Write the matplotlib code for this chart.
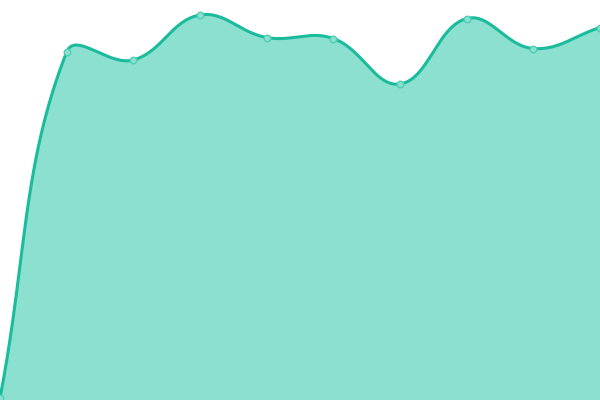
import numpy as np
import matplotlib
matplotlib.use("Agg")
import matplotlib.pyplot as plt

labels = list(range(10))
values = [2, 348, 340, 385, 362.5, 361.5, 316, 381.5, 351.5, 372.5]

line_color = "#1abc9c"
fill_color = "#8be0cf"

fig = plt.figure(figsize=(6, 4), dpi=100)
ax = fig.add_axes([0, 0, 1, 1])
ax.set_xlim(0, len(labels) - 1)
ax.set_ylim(0, 400)
ax.axis("off")

# Chart.js-like spline (tension 0.4), computed in display-proportional space
W, H = 600.0, 400.0
xs = np.array(labels, dtype=float)
ys = np.array(values, dtype=float)
px = xs / (len(labels) - 1) * W
py = ys / 400.0 * H
n = len(px)
t = 0.4
cp_prev = np.zeros((n, 2))
cp_next = np.zeros((n, 2))
for i in range(n):
    p1 = np.array([px[i], py[i]])
    p0 = np.array([px[i - 1], py[i - 1]]) if i > 0 else p1
    p2 = np.array([px[i + 1], py[i + 1]]) if i < n - 1 else p1
    d01 = np.hypot(*(p1 - p0))
    d12 = np.hypot(*(p2 - p1))
    tot = d01 + d12
    s01 = d01 / tot if tot else 0
    s12 = d12 / tot if tot else 0
    cp_prev[i] = p1 - t * s01 * (p2 - p0)
    cp_next[i] = p1 + t * s12 * (p2 - p0)

cx, cy = [], []
tt = np.linspace(0, 1, 60)
for i in range(n - 1):
    P0 = np.array([px[i], py[i]])
    P1 = cp_next[i]
    P2 = cp_prev[i + 1]
    P3 = np.array([px[i + 1], py[i + 1]])
    b = ((1 - tt) ** 3)[:, None] * P0 + (3 * (1 - tt) ** 2 * tt)[:, None] * P1 \
        + (3 * (1 - tt) * tt ** 2)[:, None] * P2 + (tt ** 3)[:, None] * P3
    cx.extend(b[:, 0])
    cy.extend(b[:, 1])
cx = np.array(cx) / W * (len(labels) - 1)
cy = np.array(cy) / H * 400.0

ax.fill_between(cx, cy, 0, color=fill_color, linewidth=0)
ax.plot(cx, cy, color=line_color, linewidth=2.2, solid_capstyle="round", clip_on=True)
ax.scatter(xs, ys, s=22, facecolor="#8be0cf", edgecolor="#4fcfb4", linewidth=1.0, zorder=3, clip_on=True)

fig.savefig("out.png", dpi=100)
